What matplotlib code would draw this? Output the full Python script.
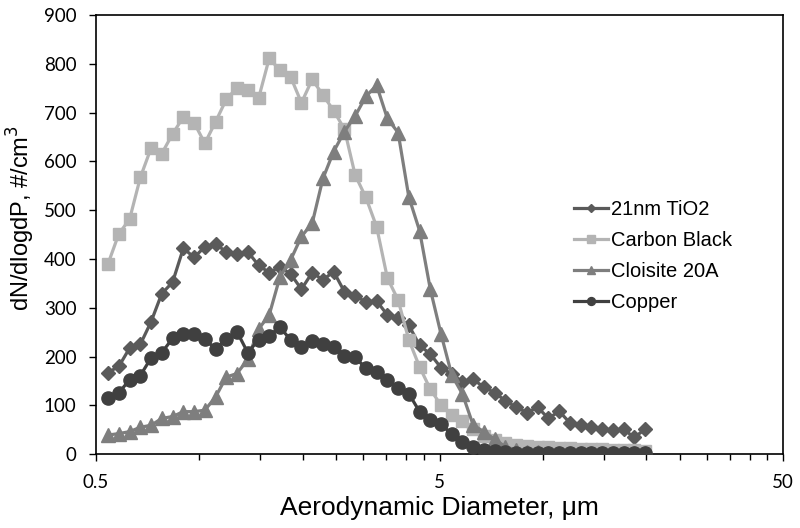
import matplotlib
matplotlib.use("Agg")
import matplotlib.pyplot as plt
from matplotlib.ticker import FixedLocator, NullFormatter, FixedFormatter

diameter = [0.542, 0.583, 0.626, 0.673, 0.723, 0.777, 0.835, 0.898, 0.965, 1.037,
            1.114, 1.197, 1.286, 1.382, 1.486, 1.596, 1.715, 1.843, 1.981, 2.129,
            2.288, 2.458, 2.642, 2.839, 3.051, 3.278, 3.523, 3.786, 4.068, 4.371,
            4.698, 5.048, 5.425, 5.829, 6.264, 6.732, 7.234, 7.774, 8.354, 8.977,
            9.647, 10.37, 11.14, 11.97, 12.86, 13.82, 14.86, 15.96, 17.15, 18.43, 19.81]

tio2 = [167, 180, 217, 225, 271, 329, 352, 422, 403, 425,
        430, 415, 410, 415, 387, 372, 384, 369, 338, 372,
        357, 374, 333, 324, 312, 314, 285, 278, 264, 223,
        205, 177, 164, 148, 153, 137, 126, 109, 96, 85,
        96, 73, 88, 64, 59, 55, 51, 49, 51, 34, 51]

carbon_black = [390, 452, 481, 567, 627, 616, 656, 691, 679, 637,
                681, 727, 751, 746, 729, 811, 787, 773, 720, 768,
                736, 704, 666, 572, 526, 466, 361, 316, 234, 179,
                133, 100, 81, 68, 51, 37, 29, 22, 19, 17,
                15, 14, 13, 12, 11, 10, 10, 9, 8, 8, 7]

cloisite = [39, 42, 46, 55, 59, 73, 77, 87, 87, 90,
            117, 158, 165, 194, 256, 285, 363, 398, 446, 473,
            565, 620, 661, 693, 733, 756, 688, 659, 527, 458,
            338, 246, 162, 123, 59, 46, 30, 15, 8, 5,
            4, 3, 2, 2, 2, 2, 2, 2, 2, 2, 2]

copper = [115, 126, 152, 161, 197, 208, 237, 247, 247, 236,
          215, 236, 251, 208, 234, 243, 260, 234, 220, 232,
          225, 219, 201, 198, 176, 169, 152, 135, 124, 87,
          70, 61, 41, 25, 15, 8, 6, 4, 3, 3,
          2, 2, 2, 2, 2, 2, 2, 2, 2, 2, 2]

series_names = ["21nm TiO2", "Carbon Black", "Cloisite 20A", "Copper"]
x_major = [0.5, 5, 50]
x_major_labels = ["0.5", "5", "50"]
x_minor = [1, 1.5, 2, 2.5, 3, 3.5, 4, 4.5, 10, 15, 20, 25, 30, 35, 40, 45]
y_ticks = [0, 100, 200, 300, 400, 500, 600, 700, 800, 900]

fig = plt.figure(figsize=(8.0, 5.28), dpi=100)
ax = fig.add_axes([0.12, 0.14, 0.859, 0.8316])

styles = [
    dict(color="#5a5a5a", marker="D", ms=7.5),
    dict(color="#b4b4b4", marker="s", ms=9),
    dict(color="#7e7e7e", marker="^", ms=9.5),
    dict(color="#404040", marker="o", ms=9.5),
]
for data, name, st in zip([tio2, carbon_black, cloisite, copper], series_names, styles):
    ax.plot(diameter, data, color=st["color"], marker=st["marker"], ms=st["ms"],
            lw=2.3, label=name, zorder=3)

ax.set_xscale("log")
ax.set_xlim(0.5, 50)
ax.set_ylim(0, 900)
ax.xaxis.set_major_locator(FixedLocator(x_major))
ax.xaxis.set_major_formatter(FixedFormatter(x_major_labels))
ax.xaxis.set_minor_locator(FixedLocator(x_minor))
ax.xaxis.set_minor_formatter(NullFormatter())
ax.set_yticks(y_ticks)

for lab in ax.get_xticklabels() + ax.get_yticklabels():
    lab.set_fontfamily(["Lato", "DejaVu Sans"])
    lab.set_fontsize(13.5)

ax.tick_params(axis="x", which="major", direction="out", length=5, width=1, pad=9)
ax.tick_params(axis="x", which="minor", direction="out", length=4, width=1)
ax.tick_params(axis="y", which="major", direction="out", length=5, width=1, pad=9)
for sp in ax.spines.values():
    sp.set_linewidth(1.2)
    sp.set_color("black")

ax.set_xlabel("Aerodynamic Diameter, \u03bcm",
              fontdict=dict(family=["Liberation Sans", "DejaVu Sans"], size=19), labelpad=4)
ax.set_ylabel("dN/dlogdP, #/cm$^3$",
              fontdict=dict(family=["Liberation Sans", "DejaVu Sans"], size=17))
ax.yaxis.set_label_coords(-0.086, 0.538)

leg = ax.legend(loc="upper left", bbox_to_anchor=(0.718, 0.622),
                bbox_transform=fig.transFigure, frameon=False,
                prop=dict(family=["Liberation Sans", "DejaVu Sans"], size=14.5),
                handlelength=1.65, handletextpad=0.15, labelspacing=0.6,
                markerscale=0.6, borderpad=0, borderaxespad=0)

fig.savefig("out.png", dpi=100)
